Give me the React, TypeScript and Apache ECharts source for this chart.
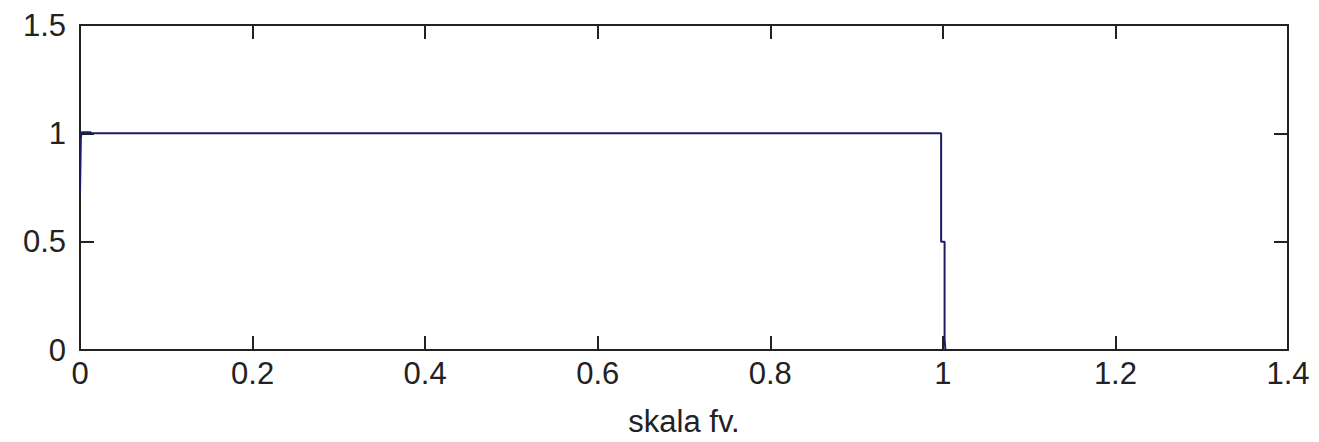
import React, { useEffect, useRef } from "react";
import * as echarts from "echarts";

const xTicks = [0, 0.2, 0.4, 0.6, 0.8, 1, 1.2, 1.4];
const yTicks = [0, 0.5, 1, 1.5];
const xValues = [0, 0.001, 0.002, 0.012, 0.014, 0.998, 0.998, 1.002, 1.002, 1.003];
const yValues = [0.72, 0.98, 1.005, 1.005, 1.0, 1.0, 0.5, 0.5, 0.05, 0];
const xLabel = "skala fv.";

const FONT = "Liberation Sans, Arial, sans-serif";
const FS = 31;

export default function App() {
  const ref = useRef<HTMLDivElement>(null);
  useEffect(() => {
    document.body.style.margin = "0";
    if (!ref.current) return;
    const chart = echarts.init(ref.current, undefined, { renderer: "svg" });
    const axisCommon = {
      type: "value" as const,
      axisLine: { show: true, onZero: false, lineStyle: { color: "#222", width: 2 } },
      axisTick: { show: true, inside: true, length: 14, lineStyle: { color: "#222", width: 2 } },
      splitLine: { show: false },
    };
    chart.setOption({
      animation: false,
      backgroundColor: "#ffffff",
      grid: { left: 80, right: 31, top: 25, bottom: 82, containLabel: false },
      xAxis: [
        {
          ...axisCommon,
          position: "bottom",
          min: xTicks[0],
          max: xTicks[xTicks.length - 1],
          interval: 0.2,
          name: xLabel,
          nameLocation: "middle",
          nameGap: 56,
          nameTextStyle: { fontFamily: FONT, fontSize: FS, color: "#222" },
          axisLabel: {
            fontFamily: FONT,
            fontSize: FS,
            color: "#222",
            margin: 8,
            formatter: (v: number) => String(parseFloat(v.toFixed(2))),
          },
        },
        {
          ...axisCommon,
          position: "top",
          min: xTicks[0],
          max: xTicks[xTicks.length - 1],
          interval: 0.2,
          axisLabel: { show: false },
        },
      ],
      yAxis: [
        {
          ...axisCommon,
          position: "left",
          min: yTicks[0],
          max: yTicks[yTicks.length - 1],
          interval: 0.5,
          axisLabel: {
            fontFamily: FONT,
            fontSize: FS,
            color: "#222",
            margin: 14,
            formatter: (v: number) => String(v),
          },
        },
        {
          ...axisCommon,
          position: "right",
          min: yTicks[0],
          max: yTicks[yTicks.length - 1],
          interval: 0.5,
          axisLabel: { show: false },
        },
      ],
      series: [
        {
          type: "line",
          data: xValues.map((x, i) => [x, yValues[i]]),
          showSymbol: false,
          symbol: "none",
          lineStyle: { color: "#1c1c66", width: 2 },
          xAxisIndex: 0,
          yAxisIndex: 0,
        },
      ],
    });
    return () => chart.dispose();
  }, []);
  return <div ref={ref} style={{ width: 1319, height: 442 }} />;
}
